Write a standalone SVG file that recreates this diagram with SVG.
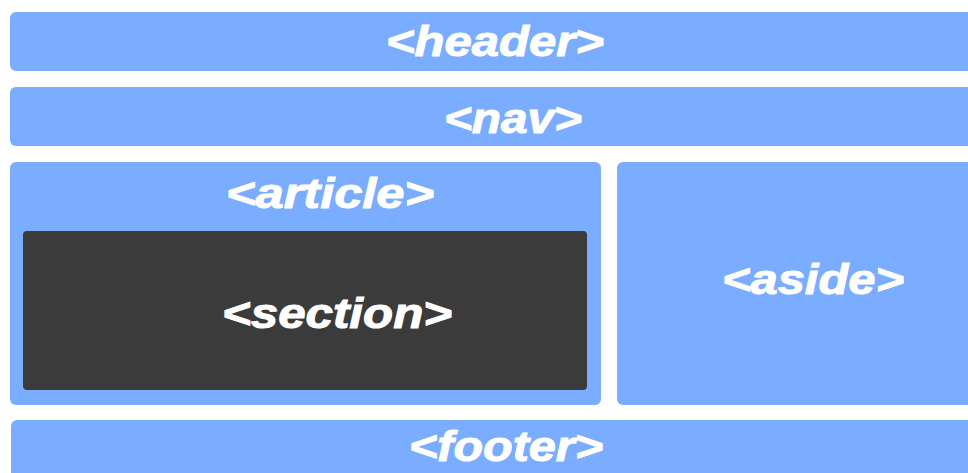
<svg xmlns="http://www.w3.org/2000/svg" width="968" height="473" viewBox="0 0 968 473">
  <style>
    .box { fill: #7aacff; }
    .dark { fill: #3b3b3b; }
    .lbl { font-family: "Liberation Sans", Arial, sans-serif; font-weight: bold; font-style: italic; font-size: 42px; fill: #ffffff; stroke: #ffffff; stroke-width: 1; }
  </style>
  <rect width="968" height="473" fill="#ffffff"/>
  <g id="header">
    <rect class="box" x="10" y="12" width="975" height="59" rx="6"/>
    <text class="lbl" x="386" y="56" textLength="218" lengthAdjust="spacingAndGlyphs">&lt;header&gt;</text>
  </g>
  <g id="nav">
    <rect class="box" x="10" y="87" width="975" height="59" rx="6"/>
    <text class="lbl" x="444" y="133" textLength="138" lengthAdjust="spacingAndGlyphs">&lt;nav&gt;</text>
  </g>
  <g id="article">
    <rect class="box" x="10" y="162" width="591" height="243" rx="6"/>
    <text class="lbl" x="226" y="208" textLength="208" lengthAdjust="spacingAndGlyphs">&lt;article&gt;</text>
  </g>
  <g id="section">
    <rect class="dark" x="23" y="231" width="564" height="159" rx="4"/>
    <text class="lbl" x="222" y="328" textLength="230" lengthAdjust="spacingAndGlyphs">&lt;section&gt;</text>
  </g>
  <g id="aside">
    <rect class="box" x="617" y="162" width="370" height="243" rx="6"/>
    <text class="lbl" x="722" y="294" textLength="182" lengthAdjust="spacingAndGlyphs">&lt;aside&gt;</text>
  </g>
  <g id="footer">
    <rect class="box" x="11" y="420" width="975" height="70" rx="6"/>
    <text class="lbl" x="409" y="461" textLength="194" lengthAdjust="spacingAndGlyphs">&lt;footer&gt;</text>
  </g>
  <g id="connectors"/>
</svg>
